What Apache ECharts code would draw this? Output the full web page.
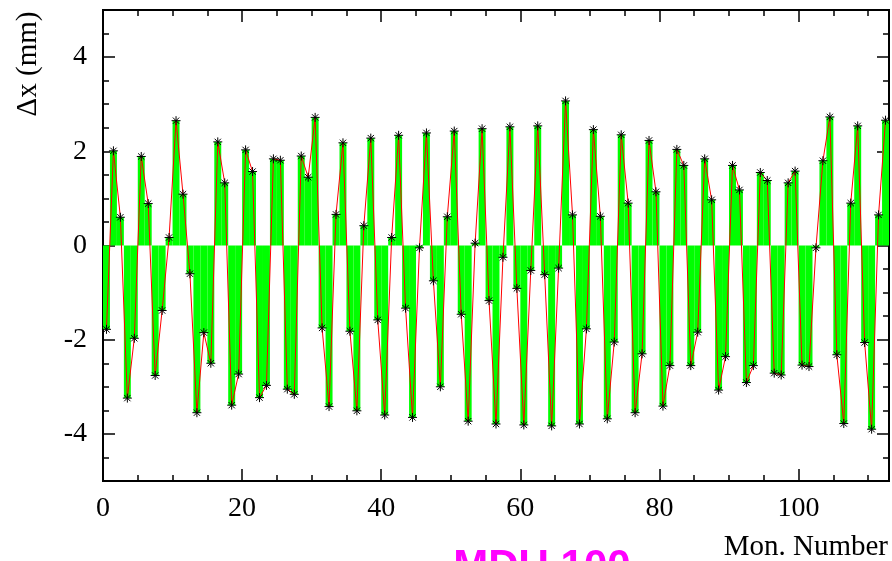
<!DOCTYPE html>
<html>
<head>
<meta charset="utf-8">
<script src="https://cdn.jsdelivr.net/npm/echarts@6/dist/echarts.min.js"></script>
<style>html,body{margin:0;padding:0;background:#fff;}#c{width:892px;height:561px;}</style>
</head>
<body>
<div id="c"></div>
<script>
// Delta x per monitor bin (bin i spans [i, i+1])
const dxValues = [
 -1.78, 2.01, 0.60, -3.24, -1.97, 1.89, 0.89, -2.76, -1.38, 0.17,
  2.65, 1.09, -0.60, -3.55, -1.85, -2.50, 2.20, 1.33, -3.39, -2.73,
  2.03, 1.57, -3.23, -2.97, 1.84, 1.81, -3.05, -3.16, 1.90, 1.45,
  2.72, -1.75, -3.42, 0.66, 2.18, -1.82, -3.51, 0.42, 2.28, -1.58,
 -3.60, 0.17, 2.34, -1.33, -3.65, -0.05, 2.39, -0.75, -3.00, 0.61,
  2.43, -1.46, -3.73, 0.05, 2.48, -1.17, -3.79, -0.25, 2.52, -0.91,
 -3.81, -0.53, 2.54, -0.62, -3.83, -0.48, 3.07, 0.65, -3.79, -1.77,
  2.46, 0.62, -3.68, -2.05, 2.35, 0.90, -3.55, -2.30, 2.23, 1.14,
 -3.41, -2.55, 2.04, 1.70, -2.55, -1.84, 1.84, 0.97, -3.07, -2.36,
  1.70, 1.18, -2.91, -2.55, 1.55, 1.38, -2.71, -2.75, 1.33, 1.58,
 -2.54, -2.57, -0.05, 1.80, 2.73, -2.32, -3.78, 0.90, 2.54, -2.06,
 -3.90, 0.65, 2.66
];
const xMajorTicks = [0, 20, 40, 60, 80, 100];
const yMajorTicks = [-4, -2, 0, 2, 4];
const xRange = [0, 113];
const yRange = [-5, 5];
const titleText = 'MDU 100';
const xTitle = 'Mon. Number';
const yTitle = 'Δx (mm)';

const serif = 'Liberation Serif, Times New Roman, serif';
const binData = dxValues.map((v, i) => [i, v]);
const pointData = dxValues.map((v, i) => [i + 0.5, v]);

function majorX(pos, show) {
  return {
    type: 'value', min: xRange[0], max: xRange[1], position: pos,
    axisLine: { show: true, onZero: false, lineStyle: { color: '#000', width: 2 } },
    axisTick: { show: true, inside: true, length: 12, customValues: xMajorTicks, lineStyle: { color: '#000', width: 1.5 } },
    axisLabel: { show: show, customValues: xMajorTicks, color: '#000', fontFamily: serif, fontSize: 28, margin: 14 },
    splitLine: { show: false }
  };
}
function minorX(pos) {
  return {
    type: 'value', min: xRange[0], max: xRange[1], interval: 5, position: pos,
    axisLine: { show: false, onZero: false },
    axisTick: { show: true, inside: true, length: 6, lineStyle: { color: '#000', width: 1.5 } },
    axisLabel: { show: false },
    splitLine: { show: false }
  };
}
function majorY(pos, show) {
  return {
    type: 'value', min: yRange[0], max: yRange[1], position: pos,
    axisLine: { show: true, onZero: false, lineStyle: { color: '#000', width: 2 } },
    axisTick: { show: true, inside: true, length: 12, customValues: yMajorTicks, lineStyle: { color: '#000', width: 1.5 } },
    axisLabel: { show: show, customValues: yMajorTicks, color: '#000', fontFamily: serif, fontSize: 28, margin: 16 },
    splitLine: { show: false }
  };
}
function minorY(pos) {
  return {
    type: 'value', min: yRange[0], max: yRange[1], interval: 0.5, position: pos,
    axisLine: { show: false, onZero: false },
    axisTick: { show: true, inside: true, length: 6, lineStyle: { color: '#000', width: 1.5 } },
    axisLabel: { show: false },
    splitLine: { show: false }
  };
}

const chart = echarts.init(document.getElementById('c'), null, { renderer: 'canvas' });
chart.setOption({
  animation: false,
  backgroundColor: '#fff',
  grid: { left: 103, right: 3, top: 10, bottom: 80, show: true, borderColor: '#000', borderWidth: 2, backgroundColor: 'transparent' },
  xAxis: [majorX('bottom', true), minorX('bottom'), majorX('top', false), minorX('top')],
  yAxis: [majorY('left', true), minorY('left'), majorY('right', false), minorY('right')],
  series: [
    {
      type: 'custom', xAxisIndex: 0, yAxisIndex: 0, data: binData, silent: true,
      renderItem: function (params, api) {
        const i = api.value(0), v = api.value(1);
        const p0 = api.coord([i, 0]);
        const p1 = api.coord([i + 1, v]);
        return {
          type: 'rect',
          shape: { x: p0[0], y: Math.min(p0[1], p1[1]), width: p1[0] - p0[0], height: Math.abs(p1[1] - p0[1]) },
          style: { fill: '#00ff00', stroke: null }
        };
      },
      z: 1
    },
    {
      type: 'line', xAxisIndex: 0, yAxisIndex: 0, data: pointData, silent: true,
      lineStyle: { color: '#ff0000', width: 1 },
      symbol: 'path://M0,5L10,5M5,0L5,10M1.5,1.5L8.5,8.5M8.5,1.5L1.5,8.5',
      symbolSize: 9,
      showAllSymbol: true,
      itemStyle: { color: '#000', borderColor: '#000', borderWidth: 1 },
      z: 3
    }
  ],
  graphic: [
    { type: 'text', x: 28, y: 64, rotation: Math.PI / 2,
      style: { text: yTitle, fontFamily: serif, fontSize: 29, fill: '#000', textAlign: 'center', textVerticalAlign: 'middle' } },
    { type: 'text', x: 888, y: 547,
      style: { text: xTitle, fontFamily: serif, fontSize: 29, fill: '#000', textAlign: 'right', textVerticalAlign: 'middle' } },
    { type: 'text', x: 542, y: 546,
      style: { text: titleText, fontFamily: 'Liberation Sans, Arial, sans-serif', fontWeight: 'bold', fontSize: 42, fill: '#ff00ff', textAlign: 'center', textVerticalAlign: 'top' } }
  ]
});
</script>
</body>
</html>
